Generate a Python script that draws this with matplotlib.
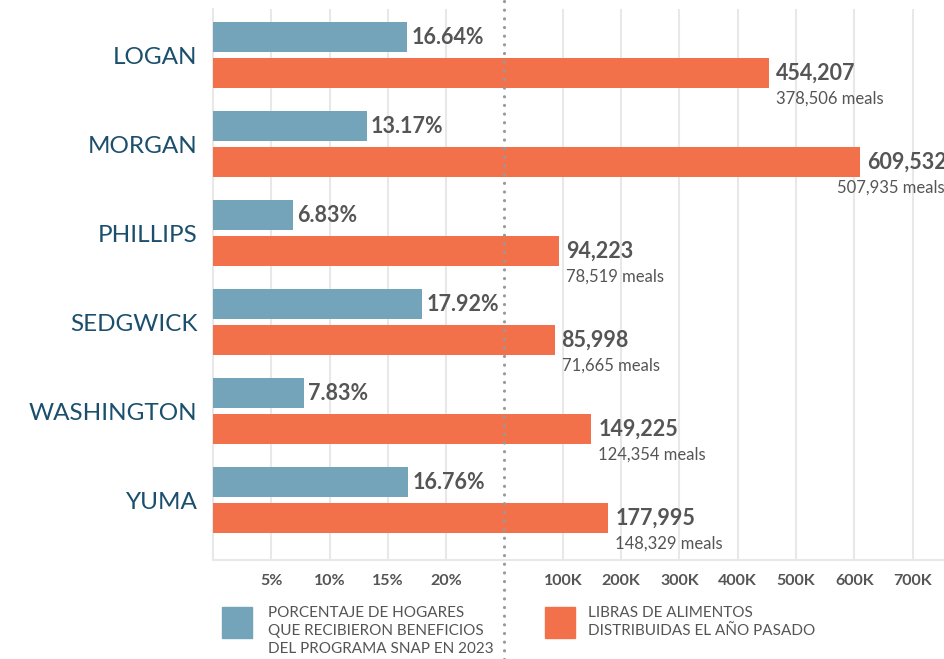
"""
SNAP share vs. pounds of food distributed, by county.
Two scales share one bottom axis: percent on the left half,
pounds (K) on the right, split by a dotted divider at 0K.
"""

import matplotlib.pyplot as plt
from matplotlib.patches import Rectangle
from matplotlib.transforms import blended_transform_factory

plt.rcParams["font.family"] = ["Lato", "DejaVu Sans"]

counties = ["LOGAN", "MORGAN", "PHILLIPS", "SEDGWICK", "WASHINGTON", "YUMA"]
snap_pct = [16.64, 13.17, 6.83, 17.92, 7.83, 16.76]
pounds = [454207, 609532, 94223, 85998, 149225, 177995]
meals = [378506, 507935, 78519, 71665, 124354, 148329]

pct_ticks = [5, 10, 15, 20]
k_ticks = [100, 200, 300, 400, 500, 600, 700]

BLUE = "#74a4b9"
ORANGE = "#f2714a"
LABEL = "#1b4f6d"
VALUE = "#555555"
GRID = "#e8e8e8"

# left edge of the axis sits at -500K, which is also 0 %
k_min, k_max = -500, 755.6
pct_max = (k_max - k_min) / 20.0

fig = plt.figure(figsize=(9.45, 6.59), dpi=100)
ax = fig.add_axes([213 / 945, 1 - 560 / 659, 1 - 213 / 945, (560 - 9) / 659])
ax2 = ax.twiny()

ys = list(range(len(counties)))
off, h = 0.202, 0.337

ax.barh([y - off for y in ys], snap_pct, height=h, color=BLUE, zorder=3)
ax2.barh([y + off for y in ys], [v / 1000 - k_min for v in pounds],
         left=k_min, height=h, color=ORANGE, zorder=3)

for y, p in zip(ys, snap_pct):
    ax.annotate(f"{p:.2f}%", (p, y - off), xytext=(3, 0), textcoords="offset points",
                va="center", ha="left", fontsize=15.5, fontweight="bold", color=VALUE,
                zorder=4)

for y, v, m in zip(ys, pounds, meals):
    ax2.annotate(f"{v:,}", (v / 1000, y + off), xytext=(5, 0), textcoords="offset points",
                 va="center", ha="left", fontsize=15.5, fontweight="bold", color=VALUE,
                 annotation_clip=False, zorder=4)
    if v / 1000 > 550:
        # too close to the edge: pin the meals line to the right side
        ax2.annotate(f"{m:,} meals", (1.0, y + off), xycoords=("axes fraction", "data"),
                     xytext=(0, -18.5), textcoords="offset points", va="center",
                     ha="right", fontsize=12, color=VALUE, annotation_clip=False, zorder=4)
    else:
        ax2.annotate(f"{m:,} meals", (v / 1000, y + off), xytext=(5, -18.5),
                     textcoords="offset points", va="center", ha="left", fontsize=12,
                     color=VALUE, annotation_clip=False, zorder=4)

ax.set_ylim(5.674, -0.517)
ax.set_xlim(0, pct_max)
ax2.set_xlim(k_min, k_max)

ax.set_yticks(ys)
ax.set_yticklabels(counties, fontsize=17.5, color=LABEL)
ax.tick_params(axis="y", length=0, pad=11)

ax.set_xticks(pct_ticks)
ax.set_xticklabels([f"{t}%" for t in pct_ticks])
ax2.xaxis.set_ticks_position("bottom")
ax2.set_xticks(k_ticks)
ax2.set_xticklabels([f"{t}K" for t in k_ticks])
for a in (ax, ax2):
    a.tick_params(axis="x", length=0, pad=10, labelsize=11.5, labelcolor=VALUE)
    for lab in a.get_xticklabels():
        lab.set_fontweight("bold")
    a.grid(axis="x", color=GRID, lw=1.5, zorder=0)
    a.set_axisbelow(True)
    for s in a.spines.values():
        s.set_visible(False)
ax.spines["left"].set_visible(True)
ax.spines["left"].set_color(GRID)
ax.spines["left"].set_linewidth(1.5)
ax.spines["bottom"].set_visible(True)
ax.spines["bottom"].set_color(GRID)
ax.spines["bottom"].set_linewidth(1.5)

# dotted divider at 0K running through the whole figure
tr = blended_transform_factory(ax2.transData, fig.transFigure)
ax2.plot([0, 0], [0, 1], transform=tr, color="#999999", lw=2.3,
         linestyle=(0, (0.01, 2.7)), dash_capstyle="round", clip_on=False, zorder=5)

# legend
fig.patches.append(Rectangle((222 / 945, 1 - 638 / 659), 30 / 945, 31 / 659,
                             transform=fig.transFigure, color=BLUE))
fig.patches.append(Rectangle((545 / 945, 1 - 638 / 659), 30 / 945, 31 / 659,
                             transform=fig.transFigure, color=ORANGE))
fig.text(268 / 945, 1 - 606 / 659,
         "PORCENTAJE DE HOGARES\nQUE RECIBIERON BENEFICIOS\nDEL PROGRAMA SNAP EN 2023",
         ha="left", va="top", fontsize=11, color=VALUE, linespacing=1.38)
fig.text(588 / 945, 1 - 606 / 659,
         "LIBRAS DE ALIMENTOS\nDISTRIBUIDAS EL AÑO PASADO",
         ha="left", va="top", fontsize=11, color=VALUE, linespacing=1.38)

fig.savefig("out.png", dpi=100)
